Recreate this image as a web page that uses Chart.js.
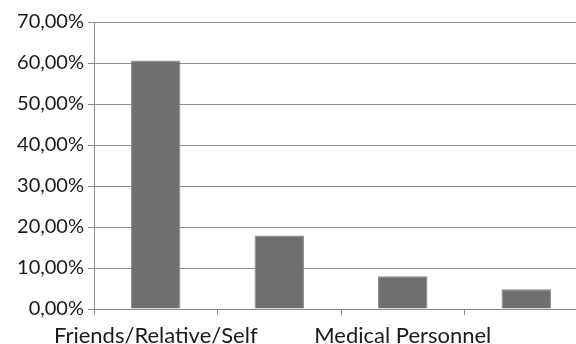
<!DOCTYPE html>
<html>
<head>
<meta charset="utf-8">
<script src="https://cdn.jsdelivr.net/npm/chart.js@4/dist/chart.umd.min.js"></script>
<style>
  html, body { margin: 0; padding: 0; background: #fff; overflow: hidden; width: 576px; height: 344px; }
  #wrap { width: 590px; height: 344px; }
</style>
</head>
<body>
<div id="wrap"><canvas id="c" width="590" height="344"></canvas></div>
<script>
// Source of information, share of respondents (%)
const categories = ["Friends/Relative/Self", "", "Medical Personnel", ""];
const shares = [60.6, 17.9, 8.0, 4.8];
const yTicks = [0, 10, 20, 30, 40, 50, 60, 70];

const fontFamily = "Lato, 'Open Sans', 'DejaVu Sans', sans-serif";

new Chart(document.getElementById('c'), {
  type: 'bar',
  data: {
    labels: categories,
    datasets: [{
      data: shares,
      backgroundColor: '#6f6f6f',
      borderColor: '#858585',
      borderWidth: 1,
      barPercentage: 0.4,
      categoryPercentage: 1.0
    }]
  },
  options: {
    responsive: false,
    animation: false,
    devicePixelRatio: 1,
    layout: { padding: { top: 22, right: 2, left: 0, bottom: 0 } },
    plugins: { legend: { display: false }, tooltip: { enabled: false } },
    scales: {
      x: {
        offset: true,
        grid: {
          offset: true,
          drawOnChartArea: false,
          drawTicks: true,
          tickLength: 6,
          color: '#8c8c8c'
        },
        border: { color: '#8c8c8c', width: 1 },
        ticks: {
          autoSkip: false,
          maxRotation: 0,
          padding: 8,
          color: '#1a1a1a',
          font: { family: fontFamily, size: 22 },
          callback: (v, i) => categories[i]
        },
        afterFit: s => { s.height = 35; }
      },
      y: {
        min: 0,
        max: 70,
        afterBuildTicks: s => { s.ticks = yTicks.map(v => ({ value: v })); },
        grid: { color: '#8c8c8c', lineWidth: 1, tickLength: 6 },
        border: { color: '#8c8c8c', width: 1 },
        ticks: {
          padding: 4,
          color: '#1a1a1a',
          font: { family: fontFamily, size: 20 },
          callback: v => v.toFixed(2).replace('.', ',') + '%'
        },
        afterFit: s => { s.width = 94; }
      }
    }
  }
});
</script>
</body>
</html>
